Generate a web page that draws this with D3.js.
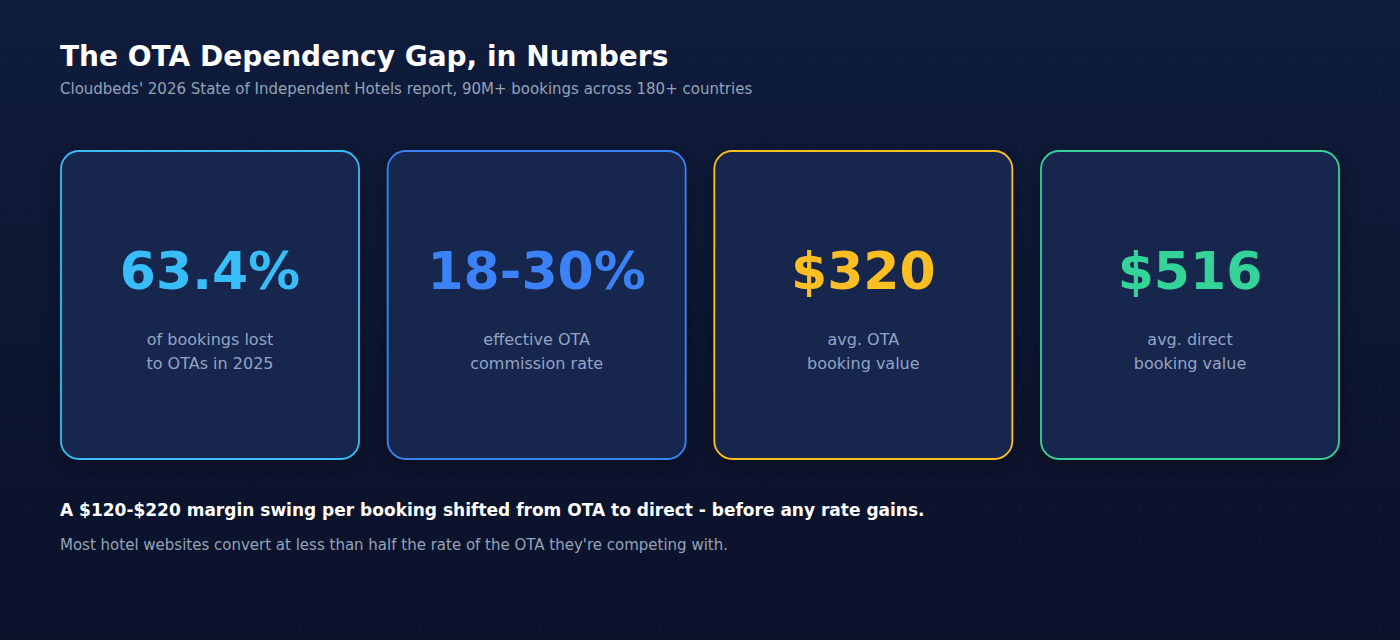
<!DOCTYPE html>
<html>
<head>
<meta charset="utf-8">
<script src="https://cdn.jsdelivr.net/npm/d3@7"></script>
<style>
  html, body { margin: 0; padding: 0; background: #0c1530; }
  svg { display: block; font-family: "DejaVu Sans", sans-serif; }
</style>
</head>
<body>
<div class="canvas"></div>
<script>
// stat cards
const statValues = ['63.4%', '18-30%', '$320', '$516']
const statLabels = [
    ['of bookings lost', 'to OTAs in 2025'],
    ['effective OTA', 'commission rate'],
    ['avg. OTA', 'booking value'],
    ['avg. direct', 'booking value']
]
const statColors = ['#38bdf8', '#3b82f6', '#fbbf24', '#34d399']

const title = 'The OTA Dependency Gap, in Numbers'
const subtitle = "Cloudbeds' 2026 State of Independent Hotels report, 90M+ bookings across 180+ countries"
const takeaway = 'A $120-$220 margin swing per booking shifted from OTA to direct - before any rate gains.'
const note = "Most hotel websites convert at less than half the rate of the OTA they're competing with."

let width = 1400,
    height = 640,
    left = 60,
    right = 1340,
    cardTop = 150,
    cardH = 310

let svg = d3.select('.canvas').append('svg')
    .attr('width', width)
    .attr('height', height)

let defs = svg.append('defs')

let bg = defs.append('linearGradient')
    .attr('id', 'bg').attr('x1', 0).attr('y1', 0).attr('x2', 0).attr('y2', 1)
bg.append('stop').attr('offset', '0%').attr('stop-color', '#0f1c3c')
bg.append('stop').attr('offset', '100%').attr('stop-color', '#0b1129')

let dots = defs.append('pattern')
    .attr('id', 'dots')
    .attr('width', 30).attr('height', 30)
    .attr('patternUnits', 'userSpaceOnUse')
;[[0, 0], [30, 0], [0, 30], [30, 30]].forEach(p => {
    dots.append('circle')
        .attr('cx', p[0]).attr('cy', p[1]).attr('r', 1)
        .attr('fill', '#ffffff').attr('fill-opacity', 0.05)
})

let shadow = defs.append('filter')
    .attr('id', 'shadow')
    .attr('x', '-20%').attr('y', '-20%').attr('width', '140%').attr('height', '140%')
shadow.append('feDropShadow')
    .attr('dx', 0).attr('dy', 4)
    .attr('stdDeviation', 10)
    .attr('flood-color', '#000000')
    .attr('flood-opacity', 0.35)

svg.append('rect').attr('width', width).attr('height', height).attr('fill', 'url(#bg)')
svg.append('rect').attr('width', width).attr('height', height).attr('fill', 'url(#dots)')

// HEADER
svg.append('text')
    .text(title)
    .attr('x', left).attr('y', 66)
    .attr('fill', '#ffffff')
    .attr('font-size', 28)
    .attr('font-weight', 'bold')
svg.append('text')
    .text(subtitle)
    .attr('x', left).attr('y', 94)
    .attr('fill', '#94a3b8')
    .attr('font-size', 15)

// CARDS
let x = d3.scaleBand()
    .domain(d3.range(statValues.length))
    .range([left, right])
    .paddingInner(0.0817)

let cards = svg.selectAll('.card')
    .data(statValues)
    .enter().append('g').classed('card', true)
    .attr('transform', (d, i) => `translate(${x(i)}, ${cardTop})`)

cards.append('rect')
    .attr('x', 1).attr('y', 1)
    .attr('width', x.bandwidth() - 2)
    .attr('height', cardH - 2)
    .attr('rx', 18)
    .attr('fill', '#15264d')
    .attr('stroke', (d, i) => statColors[i])
    .attr('stroke-width', 1.8)
    .attr('filter', 'url(#shadow)')

cards.append('text')
    .text(d => d)
    .attr('x', x.bandwidth() / 2)
    .attr('y', 139)
    .attr('text-anchor', 'middle')
    .attr('fill', (d, i) => statColors[i])
    .attr('font-size', 52)
    .attr('font-weight', 'bold')

cards.each(function (d, i) {
    d3.select(this).selectAll('.lbl')
        .data(statLabels[i])
        .enter().append('text').classed('lbl', true)
        .text(t => t)
        .attr('x', x.bandwidth() / 2)
        .attr('y', (t, j) => 195 + j * 24)
        .attr('text-anchor', 'middle')
        .attr('fill', '#94a3c4')
        .attr('font-size', 16)
})

// FOOTER
svg.append('text')
    .text(takeaway)
    .attr('x', left).attr('y', 516)
    .attr('fill', '#ffffff')
    .attr('font-size', 17)
    .attr('font-weight', 'bold')
svg.append('text')
    .text(note)
    .attr('x', left).attr('y', 550)
    .attr('fill', '#94a3b8')
    .attr('font-size', 15)
</script>
</body>
</html>
